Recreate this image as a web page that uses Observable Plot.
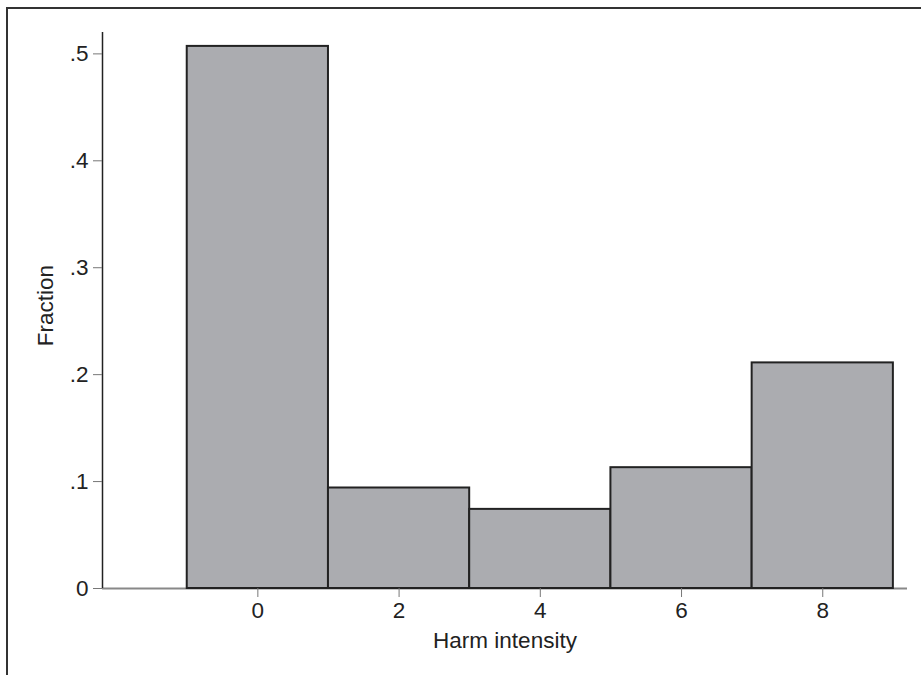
<!DOCTYPE html>
<html>
<head>
<meta charset="utf-8">
<script src="https://cdn.jsdelivr.net/npm/d3@7"></script>
<script src="https://cdn.jsdelivr.net/npm/@observablehq/plot@0.6"></script>
<style>
  html, body { margin: 0; padding: 0; background: #fff; }
  #wrap { position: relative; width: 921px; height: 675px; overflow: hidden; }
  #wrap svg text { font-size: 22.5px; font-family: 'Liberation Sans', Arial, Helvetica, sans-serif; }
  #border { position: absolute; left: 6px; top: 7px; width: 930px; height: 700px;
            border-top: 2px solid #333; border-left: 2px solid #333; pointer-events: none; }
</style>
</head>
<body>
<div id="wrap"><div id="border"></div></div>
<script>
// Histogram bins (start, end) and fractions
const binStart = [-1, 1, 3, 5, 7];
const binEnd   = [1, 3, 5, 7, 9];
const fraction = [0.507, 0.094, 0.074, 0.113, 0.211];
const xTicks = [0, 2, 4, 6, 8];
const yTicks = [0, 0.1, 0.2, 0.3, 0.4, 0.5];
const xDomain = [-2.2, 9.2];
const yDomain = [0, 0.52];
const xTitle = "Harm intensity";
const yTitle = "Fraction";

const bins = binStart.map((s, i) => ({x1: s, x2: binEnd[i], y: fraction[i]}));
const fmtY = d => d === 0 ? "0" : String(+d.toFixed(1)).replace(/^0/, "");
const font = "'Liberation Sans', Arial, Helvetica, sans-serif";
const fs = 22.5;

const chart = Plot.plot({
  width: 921,
  height: 675,
  marginLeft: 102,
  marginRight: 14,
  marginTop: 32,
  marginBottom: 87,
  style: {fontFamily: font, fontSize: fs + "px", color: "#222", background: "#fff"},
  x: {domain: xDomain},
  y: {domain: yDomain},
  marks: [
    Plot.ruleY([0], {stroke: "#888", strokeWidth: 2}),
    Plot.ruleX([xDomain[0]], {y1: yDomain[0], y2: yDomain[1], stroke: "#222", strokeWidth: 1.5}),
    Plot.rectY(bins, {x1: "x1", x2: "x2", y: "y", fill: "#abacb0", stroke: "#222", strokeWidth: 2}),
    Plot.axisY(yTicks, {tickSize: 9, tickPadding: 5, tickFormat: fmtY, stroke: "#777", fill: "#222", fontSize: fs, label: null}),
    Plot.axisX(xTicks, {tickSize: 9, tickPadding: 5, tickFormat: d => String(d), stroke: "#777", fill: "#222", fontSize: fs, label: null}),
    Plot.text([xTitle], {frameAnchor: "bottom", dy: 59, lineAnchor: "bottom", textAnchor: "middle", fill: "#222", fontSize: fs}),
    Plot.text([yTitle], {frameAnchor: "left", dx: -57, dy: -5, rotate: -90, lineAnchor: "middle", textAnchor: "middle", fill: "#222", fontSize: fs})
  ]
});
document.getElementById("wrap").prepend(chart);
</script>
</body>
</html>
